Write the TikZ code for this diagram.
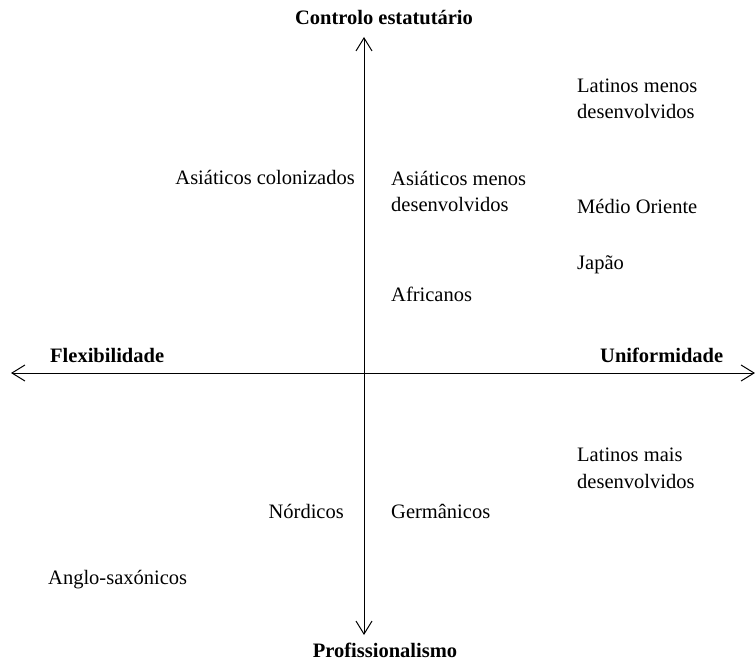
\documentclass[tikz,border=0pt]{standalone}
\usepackage{fontspec}
\setmainfont{Liberation Serif}
\usetikzlibrary{positioning,arrows.meta}

\begin{document}
\begin{tikzpicture}[x=1pt,y=-1pt, every node/.style={font=\fontsize{20.5}{26.5}\selectfont,inner sep=0pt,align=left},
    axislbl/.style={font=\fontsize{20.5}{26.5}\selectfont\bfseries}]
        \useasboundingbox (0,0) rectangle (755,668);
        \coordinate (n) at (364,37);\coordinate (s) at (364,635);
        \coordinate (w) at (11,373);\coordinate (e) at (755,373);
        \draw[line width=1pt,{Straight Barb[length=13pt,width=16pt]}-{Straight Barb[length=13pt,width=16pt]}] (n)--(s);
        \draw[line width=1pt,{Straight Barb[length=13pt,width=16pt]}-{Straight Barb[length=13pt,width=16pt]}] (w)--(e);
        % axis labels
        \node[axislbl,anchor=base] (ctrl) at (384,25) {Controlo estatutário};
        \node[axislbl,anchor=base] (prof) at (385,657) {Profissionalismo};
        \node[axislbl,anchor=base west] (flex) at (50,362) {Flexibilidade};
        \node[axislbl,anchor=base west] (unif) at (600,362) {Uniformidade};
        % clusters (base = last line)
        \node[anchor=base west] (latmen) at (577,119) {Latinos menos\\desenvolvidos};
        \node[anchor=base east] (asicol) at (355,185) {Asiáticos colonizados};
        \node[anchor=base west] (asimen) at (391,212) {Asiáticos menos\\desenvolvidos};
        \node[anchor=base west] (medio) at (577,214) {Médio Oriente};
        \node[anchor=base west] (japao) at (577,270) {Japão};
        \node[anchor=base west] (afric) at (391,302) {Africanos};
        \node[anchor=base west] (latmais) at (577,488) {Latinos mais\\desenvolvidos};
        \node[anchor=base east] (nord) at (344,518) {Nórdicos};
        \node[anchor=base west] (germ) at (391,518) {Germânicos};
        \node[anchor=base west] (anglo) at (48,584) {Anglo-saxónicos};
      \end{tikzpicture}
\end{document}
